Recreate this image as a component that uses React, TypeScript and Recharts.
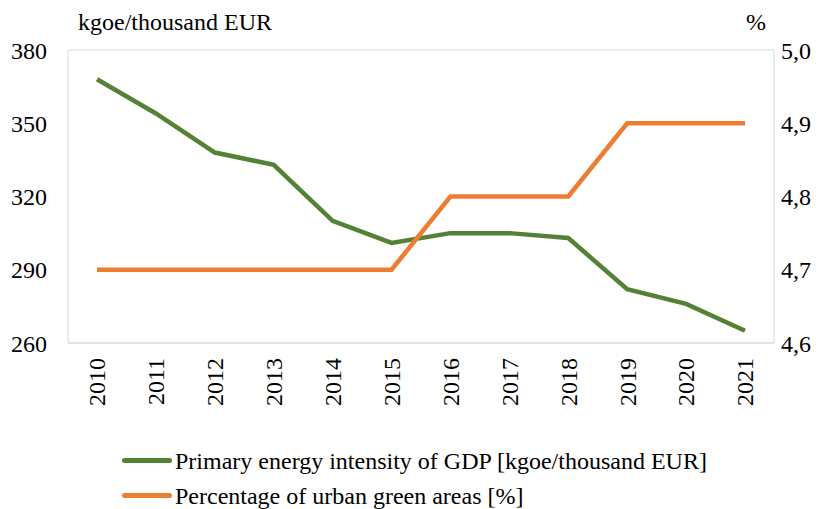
import { CartesianGrid, Legend, Line, LineChart, XAxis, YAxis } from "recharts";

const years = ["2010", "2011", "2012", "2013", "2014", "2015", "2016", "2017", "2018", "2019", "2020", "2021"];
const energyIntensity = [368, 354, 338, 333, 310, 301, 305, 305, 303, 282, 276, 265];
const urbanGreen = [4.7, 4.7, 4.7, 4.7, 4.7, 4.7, 4.8, 4.8, 4.8, 4.9, 4.9, 4.9];
const leftTicks = [260, 290, 320, 350, 380];
const rightTicks = [4.6, 4.7, 4.8, 4.9, 5.0];

const GREEN = "#548235";
const ORANGE = "#ED7D31";
const FONT = "Liberation Serif, Times New Roman, Times, Tinos, Noto Serif, DejaVu Serif, serif";

const data = years.map((year, i) => ({
  year,
  energy: energyIntensity[i],
  green: urbanGreen[i],
}));

const legendItems = [
  { key: "energy", label: "Primary energy intensity of GDP [kgoe/thousand EUR]", color: GREEN },
  { key: "green", label: "Percentage of urban green areas [%]", color: ORANGE },
];

function YearTick({ x, y, payload }: any) {
  return (
    <text
      x={x}
      y={y}
      dy="0.35em"
      transform={`rotate(-90 ${x} ${y})`}
      textAnchor="end"
      fill="#000"
      style={{ fontFamily: FONT, fontSize: 24 }}
    >
      {payload.value}
    </text>
  );
}

function LegendBox() {
  return (
    <div style={{ fontFamily: FONT, fontSize: 24, color: "#000" }}>
      {legendItems.map((it) => (
        <div key={it.key} style={{ display: "flex", alignItems: "center", height: 35, lineHeight: "28px" }}>
          <span
            style={{
              display: "inline-block",
              width: 50,
              height: 5,
              background: it.color,
              borderRadius: 2.5,
              marginLeft: 122,
              marginRight: 3,
            }}
          />
          <span>{it.label}</span>
        </div>
      ))}
    </div>
  );
}

export default function App() {
  return (
    <div
      style={{
        position: "absolute",
        left: 0,
        top: 0,
        width: 827,
        height: 509,
        overflow: "hidden",
        background: "#fff",
        fontFamily: FONT,
      }}
    >
      <LineChart width={827} height={509} data={data} margin={{ top: 50, right: 0, left: 0, bottom: 71 }}>
        <CartesianGrid horizontal vertical={false} stroke="#d9d9d9" />
        <XAxis
          dataKey="year"
          height={95}
          tick={<YearTick />}
          tickLine={false}
          tickSize={0}
          tickMargin={15}
          axisLine={{ stroke: "#d9d9d9" }}
          interval={0}
          padding={{ left: 29, right: 29 }}
        />
        <YAxis
          yAxisId="left"
          width={68}
          domain={[260, 380]}
          ticks={leftTicks}
          tickLine={false}
          tickSize={0}
          tickMargin={21}
          axisLine={{ stroke: "#d9d9d9" }}
          tick={{ fill: "#000", fontSize: 24, style: { fontFamily: FONT } }}
        />
        <YAxis
          yAxisId="right"
          orientation="right"
          width={53}
          domain={[4.6, 5.0]}
          ticks={rightTicks}
          tickLine={false}
          tickSize={0}
          tickMargin={7}
          axisLine={{ stroke: "#d9d9d9" }}
          tickFormatter={(v: number) => v.toFixed(1).replace(".", ",")}
          tick={{ fill: "#000", fontSize: 24, textAnchor: "start", style: { fontFamily: FONT } }}
        />
        <Line
          yAxisId="left"
          dataKey="energy"
          stroke={GREEN}
          strokeWidth={4.5}
          dot={false}
          isAnimationActive={false}
        />
        <Line
          yAxisId="right"
          dataKey="green"
          stroke={ORANGE}
          strokeWidth={4.5}
          dot={false}
          isAnimationActive={false}
        />
        <Legend
          layout="horizontal"
          verticalAlign="middle"
          align="center"
          content={<LegendBox />}
          wrapperStyle={{ top: 443, left: 0, width: 827 }}
        />
        <text x={78} y={30} fill="#000" style={{ fontFamily: FONT, fontSize: 24 }}>
          kgoe/thousand EUR
        </text>
        <text x={746} y={30} fill="#000" style={{ fontFamily: FONT, fontSize: 24 }}>
          %
        </text>
      </LineChart>
    </div>
  );
}
